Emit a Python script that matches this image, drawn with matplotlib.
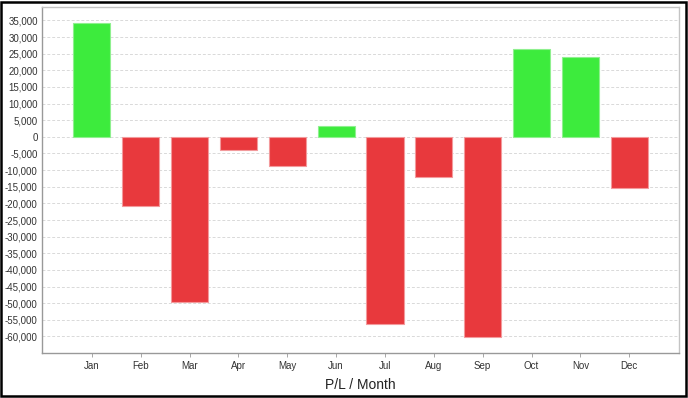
import matplotlib.pyplot as plt
from matplotlib.patches import Rectangle
from matplotlib.ticker import FuncFormatter

months = ["Jan", "Feb", "Mar", "Apr", "May", "Jun",
          "Jul", "Aug", "Sep", "Oct", "Nov", "Dec"]
pl = [34200, -20900, -49700, -4100, -8900, 3200,
      -56300, -12200, -60200, 26500, 23900, -15500]
y_ticks = list(range(-60000, 35001, 5000))

GREEN = "#3deb3d"
RED = "#e8393d"

plt.rcParams["font.family"] = ["Liberation Sans", "DejaVu Sans"]

fig = plt.figure(figsize=(6.88, 3.98), dpi=100)
ax = fig.add_axes([0.061, 0.113, 0.926, 0.869])

colors = [GREEN if v >= 0 else RED for v in pl]
edges = ["#8ff08f" if v >= 0 else "#f39a9c" for v in pl]
x = list(range(len(months)))
ax.bar(x, pl, width=0.76, color=colors, edgecolor=edges, linewidth=0.8, zorder=3)

ax.set_xticks(x)
ax.set_xticklabels(months)
ax.set_yticks(y_ticks)
ax.set_xlim(-1.02, 12.02)
ax.set_ylim(-65000, 39000)
ax.yaxis.set_major_formatter(FuncFormatter(lambda v, _: f"{int(v):,}"))

ax.grid(axis="y", color="#d9d9d9", linestyle=(0, (3, 2)), linewidth=0.7, zorder=0)
ax.tick_params(axis="y", length=0, labelsize=7, colors="#333333", pad=3)
ax.tick_params(axis="x", length=3, width=0.6, color="#999999", labelsize=7,
               labelcolor="#333333", pad=2.5)

for side in ["left", "bottom"]:
    ax.spines[side].set_color("#999999")
for side in ["top", "right"]:
    ax.spines[side].set_color("#c4c4c4")
for s in ax.spines.values():
    s.set_linewidth(1.0)

ax.set_xlabel("P/L / Month", fontsize=10, color="#222222", labelpad=5)

fig.patches.append(Rectangle((0.0015, 0.004), 0.9955, 0.9915, transform=fig.transFigure,
                             fill=False, edgecolor="black", linewidth=1.8))

fig.savefig("out.png", dpi=100)
